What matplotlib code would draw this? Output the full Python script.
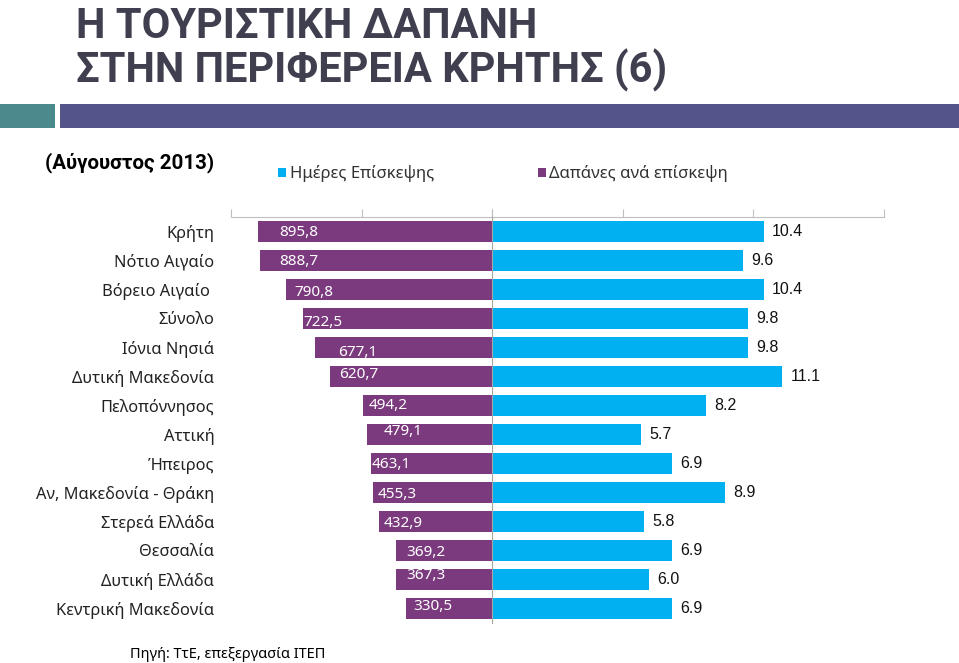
import matplotlib
matplotlib.use('Agg')
import matplotlib.pyplot as plt
from matplotlib.patches import Rectangle

plt.rcParams['font.family'] = ['Noto Sans', 'DejaVu Sans']

regions = ['Κρήτη', 'Νότιο Αιγαίο', 'Βόρειο Αιγαίο ', 'Σύνολο', 'Ιόνια Νησιά',
           'Δυτική Μακεδονία', 'Πελοπόννησος', 'Αττική', 'Ήπειρος',
           'Αν, Μακεδονία - Θράκη', 'Στερεά Ελλάδα', 'Θεσσαλία', 'Δυτική Ελλάδα',
           'Κεντρική Μακεδονία']
spend = [895.8, 888.7, 790.8, 722.5, 677.1, 620.7, 494.2, 479.1, 463.1, 455.3,
         432.9, 369.2, 367.3, 330.5]
days = [10.4, 9.6, 10.4, 9.8, 9.8, 11.1, 8.2, 5.7, 6.9, 8.9, 5.8, 6.9, 6.0, 6.9]

# the spend labels sit a bit off in the original slide (pixels)
lab_dx = [21, 19, 9, 0, 23, 9, 6, 17, 0, 4, 5, 11, 10, 8]
lab_dy = [1, 1, 3, 4, 5, -2, 0, -3, 1, 2, 2, 2, -4, -2]

purple = '#7B3A7E'
cyan = '#00B0F0'
grid_c = '#BFBFBF'

W, H = 959, 663
fig = plt.figure(figsize=(W / 100, H / 100), dpi=100)

def fx(px):
    return px / W

def fy(py):
    return 1 - py / H

# header
fig.text(fx(76), fy(38), 'Η ΤΟΥΡΙΣΤΙΚΗ ΔΑΠΑΝΗ', family=['Roboto', 'DejaVu Sans'],
         weight='bold', fontsize=30, color='#3F3F50', va='baseline')
fig.text(fx(76), fy(83), 'ΣΤΗΝ ΠΕΡΙΦΕΡΕΙΑ ΚΡΗΤΗΣ (6)', family=['Roboto', 'DejaVu Sans'],
         weight='bold', fontsize=30, color='#3F3F50', va='baseline')
fig.add_artist(Rectangle((0, fy(128)), fx(55), fy(104) - fy(128),
                         transform=fig.transFigure, color='#4A8A8C', lw=0))
fig.add_artist(Rectangle((fx(60), fy(128)), 1 - fx(60), fy(104) - fy(128),
                         transform=fig.transFigure, color='#55548A', lw=0))

fig.text(fx(45), fy(163), '(Αύγουστος 2013)', family=['Roboto', 'DejaVu Sans'],
         weight='bold', fontsize=14.8, color='black', va='center')
fig.add_artist(Rectangle((fx(278), fy(177)), fx(8), fy(168) - fy(177),
                         transform=fig.transFigure, color=cyan, lw=0))
fig.text(fx(290), fy(173), 'Ημέρες Επίσκεψης', fontsize=12, color='#333333', va='center')
fig.add_artist(Rectangle((fx(538), fy(177)), fx(8), fy(168) - fy(177),
                         transform=fig.transFigure, color=purple, lw=0))
fig.text(fx(549), fy(173), 'Δαπάνες ανά επίσκεψη', fontsize=12, color='#333333', va='center')

fig.text(fx(130), fy(655), 'Πηγή: ΤτΕ, επεξεργασία ΙΤΕΠ', fontsize=10.5,
         color='black', va='center')

# chart
ax_l = fig.add_axes([fx(231), fy(623), fx(492) - fx(231), fy(217) - fy(623)])
ax_r = fig.add_axes([fx(492), fy(623), fx(884) - fx(492), fy(217) - fy(623)])

ypos = list(range(len(regions)))

ax_l.barh(ypos, spend, height=0.69, color=purple, zorder=2)
ax_l.set_xlim(1000, 0)
ax_l.set_ylim(len(regions) - 0.5, -0.5)
ax_l.set_xticks([1000, 500, 0])
ax_l.set_yticks(ypos)
ax_l.set_yticklabels(regions, fontsize=11.8, color='#222222')
ax_l.tick_params(axis='y', length=0, pad=12)
ax_l.xaxis.tick_top()
ax_l.tick_params(axis='x', length=6, color=grid_c, labeltop=False, labelbottom=False)
for s in ['left', 'right', 'bottom']:
    ax_l.spines[s].set_visible(False)
ax_l.spines['top'].set_color(grid_c)

for i, v in enumerate(spend):
    ax_l.annotate(f'{v:.1f}'.replace('.', ','), (v, i),
                  xytext=(lab_dx[i] * 0.72, -lab_dy[i] * 0.72), textcoords='offset points',
                  ha='left', va='center', color='white', fontsize=11, zorder=3)

ax_r.barh(ypos, days, height=0.69, color=cyan, zorder=2)
ax_r.set_xlim(0, 15)
ax_r.set_ylim(len(regions) - 0.5, -0.5)
ax_r.set_xticks([0, 5, 10, 15])
ax_r.set_yticks([])
ax_r.xaxis.tick_top()
ax_r.tick_params(axis='x', length=6, color=grid_c, labeltop=False, labelbottom=False)
for s in ['right', 'bottom']:
    ax_r.spines[s].set_visible(False)
ax_r.spines['top'].set_color(grid_c)
ax_r.spines['left'].set_color('#A6A6A6')
ax_r.spines['left'].set_zorder(4)

for i, v in enumerate(days):
    ax_r.annotate(f'{v:.1f}', (v, i), xytext=(6, 0), textcoords='offset points',
                  ha='left', va='center', color='#111111', fontsize=11.5,
                  family=['Liberation Sans', 'DejaVu Sans'])

fig.savefig('out.png', dpi=100)
